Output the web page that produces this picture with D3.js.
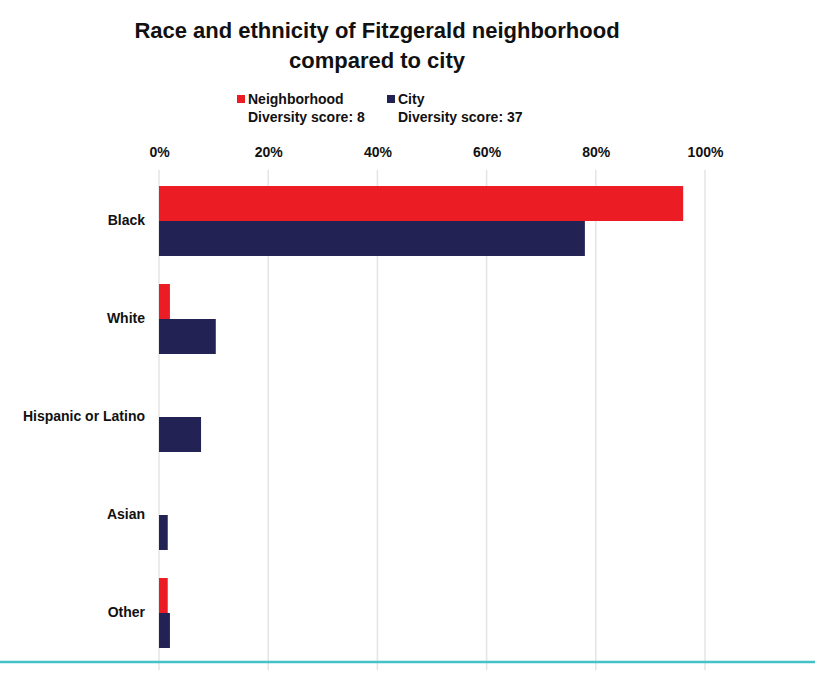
<!DOCTYPE html>
<html>
<head>
<meta charset="utf-8">
<script src="https://cdn.jsdelivr.net/npm/d3@7"></script>
<style>
  html, body { margin: 0; padding: 0; background: #fff; }
  svg { display: block; font-family: "Liberation Sans", Arial, sans-serif; }
</style>
</head>
<body>
<svg id="chart" width="821" height="674"></svg>
<script>
const categories = ["Black", "White", "Hispanic or Latino", "Asian", "Other"];
const neighborhood = [96, 2, 0, 0, 1.6];
const city = [78, 10.4, 7.7, 1.6, 2];
const tickValues = [0, 20, 40, 60, 80, 100];
const seriesNames = ["Neighborhood", "City"];
const diversityScores = [8, 37];

const colors = { Neighborhood: "#ec1c24", City: "#222255" };

const svg = d3.select("#chart");

const x = d3.scaleLinear().domain([0, 100]).range([159, 705]);
const y = d3.scaleBand().domain(categories).range([172, 662]).paddingInner(0.286).paddingOuter(0.143);
const sub = d3.scaleBand().domain(seriesNames).range([0, y.bandwidth()]);

// Title
const title = svg.append("text")
  .attr("text-anchor", "middle")
  .attr("font-weight", "bold")
  .attr("font-size", 22)
  .attr("fill", "#111");
title.append("tspan").attr("x", 377).attr("y", 38).text("Race and ethnicity of Fitzgerald neighborhood");
title.append("tspan").attr("x", 377).attr("y", 68).text("compared to city");

// Legend
const legendX = [237, 387];
seriesNames.forEach((name, i) => {
  const g = svg.append("g").attr("transform", `translate(${legendX[i]},0)`);
  g.append("rect").attr("x", 0).attr("y", 95).attr("width", 8).attr("height", 8).attr("fill", colors[name]);
  g.append("text").attr("x", 11).attr("y", 104).attr("font-size", 14).attr("font-weight", "bold").attr("fill", "#111").text(name);
  g.append("text").attr("x", 11).attr("y", 122).attr("font-size", 14).attr("font-weight", "bold").attr("fill", "#111")
    .text("Diversity score: " + diversityScores[i]);
});

// Gridlines
svg.append("g").selectAll("line").data(tickValues).join("line")
  .attr("x1", d => x(d)).attr("x2", d => x(d))
  .attr("y1", 170).attr("y2", 670)
  .attr("stroke", "#e4e4e4").attr("stroke-width", 1.5);

// Top axis labels
const axis = d3.axisTop(x).tickValues(tickValues).tickFormat(d => d + "%").tickSize(0).tickPadding(0);
const ax = svg.append("g").attr("transform", "translate(0,157)").call(axis);
ax.select(".domain").remove();
ax.selectAll("text").attr("font-size", 14).attr("font-weight", "bold").attr("fill", "#111")
  .attr("font-family", "Liberation Sans, Arial, sans-serif");

// Bars
const rows = categories.map((c, i) => ({ cat: c, values: [
  { series: "Neighborhood", value: neighborhood[i] },
  { series: "City", value: city[i] }
]}));

const groups = svg.append("g").selectAll("g").data(rows).join("g")
  .attr("transform", d => `translate(0,${y(d.cat)})`);

groups.selectAll("rect").data(d => d.values).join("rect")
  .attr("x", x(0))
  .attr("y", d => sub(d.series))
  .attr("width", d => x(d.value) - x(0))
  .attr("height", sub.bandwidth())
  .attr("fill", d => colors[d.series]);

// Category labels
const yAxis = d3.axisLeft(y).tickSize(0).tickPadding(0);
const ay = svg.append("g").attr("transform", "translate(145,0)").call(yAxis);
ay.select(".domain").remove();
ay.selectAll("text").attr("font-size", 14).attr("font-weight", "bold").attr("fill", "#111")
  .attr("font-family", "Liberation Sans, Arial, sans-serif");

// Bottom rule
svg.append("line").attr("x1", 0).attr("x2", 815).attr("y1", 662).attr("y2", 662)
  .attr("stroke", "#44c2c9").attr("stroke-width", 2.5);
</script>
</body>
</html>
